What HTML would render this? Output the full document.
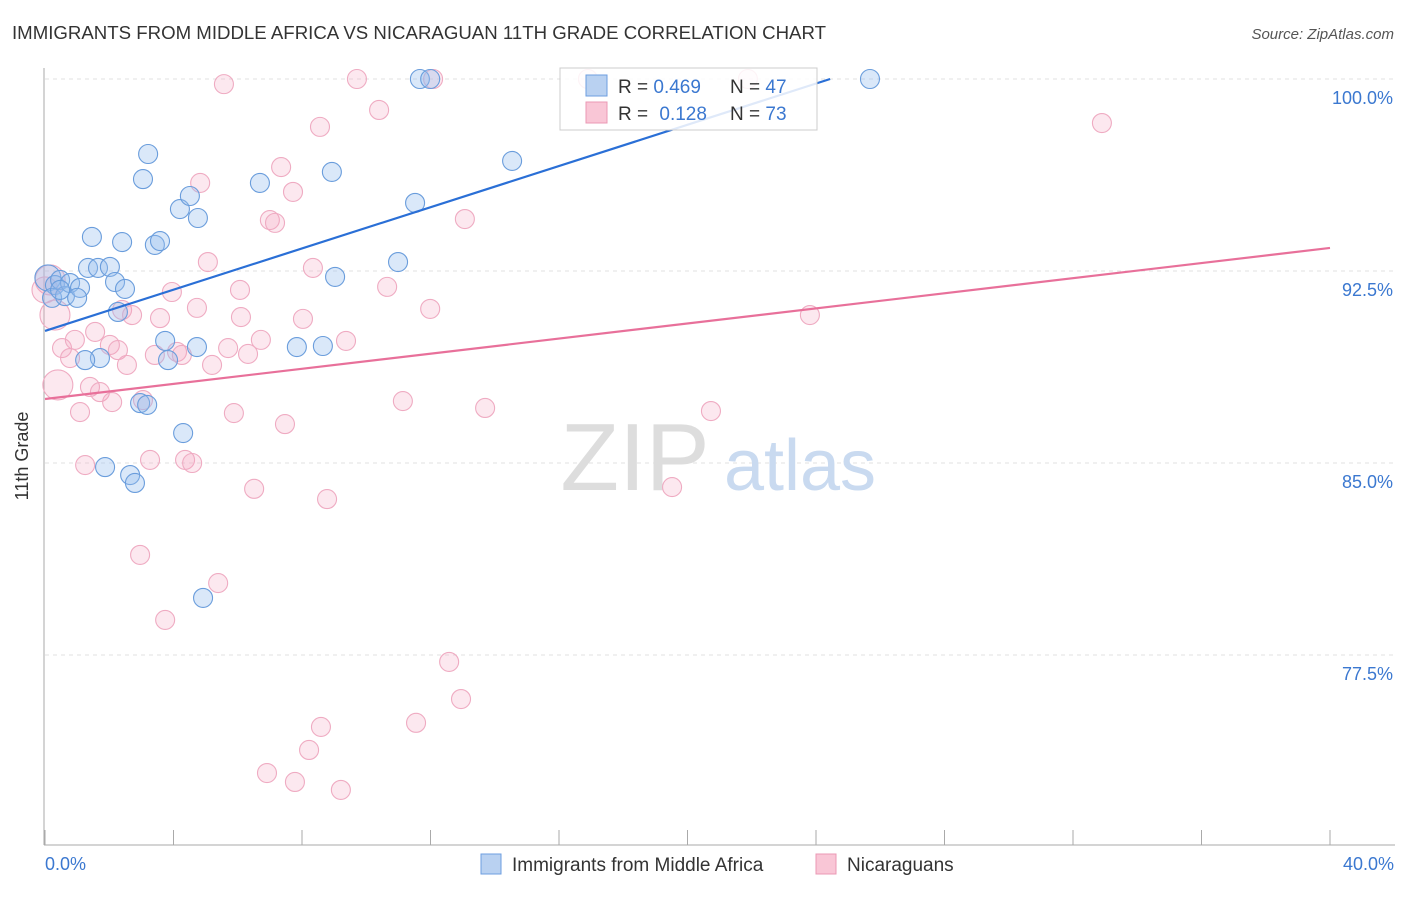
<!DOCTYPE html>
<html><head><meta charset="utf-8">
<style>
body{margin:0;background:#fff;font-family:"Liberation Sans",sans-serif;}
svg text{font-family:"Liberation Sans",sans-serif;}
</style></head>
<body>
<svg id="chart" width="1406" height="892" viewBox="0 0 1406 892" xmlns="http://www.w3.org/2000/svg">
<text x="12" y="39" font-size="18" fill="#333" textLength="814" lengthAdjust="spacingAndGlyphs">IMMIGRANTS FROM MIDDLE AFRICA VS NICARAGUAN 11TH GRADE CORRELATION CHART</text>
<text x="1394" y="39" font-size="15" fill="#555" font-style="italic" text-anchor="end">Source: ZipAtlas.com</text>
<g id="grid"></g>
<g>
<text x="635" y="490" font-size="96" fill="#ddd" font-family="Liberation Serif" text-anchor="middle">ZIP</text>
<text x="800" y="490" font-size="72" fill="#c9daf0" text-anchor="middle">atlas</text>
</g>
<line x1="44" y1="68" x2="44" y2="845" stroke="#aaa"/>
<line x1="44" y1="845" x2="1395" y2="845" stroke="#aaa"/>
<g id="xticks"></g>
<text x="28" y="456" font-size="18" fill="#333" text-anchor="middle" transform="rotate(-90 28 456)">11th Grade</text>
<text x="45" y="870" font-size="18" fill="#3b78d0">0.0%</text>
<text x="1394" y="870" font-size="18" fill="#3b78d0" text-anchor="end">40.0%</text>
<g id="pinkpts"></g>
<g id="bluepts"></g>
<g id="lines"></g>
<g>
<rect x="560" y="68" width="257" height="62" fill="rgba(255,255,255,0.85)" stroke="#ccc"/>
<rect x="586" y="75" width="21" height="21" fill="#b9d1f1" stroke="#6d9ee0"/>
<rect x="586" y="102" width="21" height="21" fill="#f9c6d6" stroke="#eb98b4"/>
<text x="618" y="93" font-size="19" fill="#333">R = <tspan fill="#3b78d0">0.469</tspan></text>
<text x="730" y="93" font-size="19" fill="#333">N = <tspan fill="#3b78d0">47</tspan></text>
<text x="618" y="120" font-size="19" fill="#333">R = <tspan fill="#3b78d0" dx="6">0.128</tspan></text>
<text x="730" y="120" font-size="19" fill="#333">N = <tspan fill="#3b78d0">73</tspan></text>
</g>
<g>
<rect x="481" y="854" width="20" height="20" fill="#b9d1f1" stroke="#6d9ee0"/>
<text x="512" y="871" font-size="19" fill="#333">Immigrants from Middle Africa</text>
<rect x="816" y="854" width="20" height="20" fill="#f9c6d6" stroke="#eb98b4"/>
<text x="847" y="871" font-size="19" fill="#333">Nicaraguans</text>
</g>
</svg>
<script>
const yTicks=[100,92.5,85,77.5];
const yTickLabels=["100.0%","92.5%","85.0%","77.5%"];
const xTicks=[0,4,8,12,16,20,24,28,32,36,40];
const blueX=[0.09,0.31,0.47,0.22,0.62,0.78,1.09,1.0,1.46,1.34,1.65,2.02,2.40,2.18,2.49,2.27,1.71,1.25,3.21,3.05,3.42,3.58,4.20,4.51,4.76,3.74,3.83,4.73,2.96,3.18,4.30,1.87,2.65,2.80,4.92,6.69,7.84,8.65,8.93,9.03,10.99,11.52,11.67,11.99,14.54,25.68,0.47];
const blueY=[92.23,91.95,92.15,91.45,91.52,92.03,91.84,91.45,93.83,92.62,92.62,92.66,93.63,92.07,91.80,90.90,89.10,89.02,97.07,96.09,93.52,93.67,94.92,95.43,94.57,89.77,89.02,89.53,87.34,87.27,86.17,84.84,84.53,84.22,79.73,95.94,89.53,89.57,96.37,92.27,92.85,95.16,100,100,96.8,100,91.76];
const pinkX=[0.16,0.31,0.40,0.0,0.53,0.78,0.93,1.56,1.40,1.71,1.09,1.25,2.02,2.09,2.27,2.40,2.55,2.71,3.27,2.96,3.58,3.42,3.95,3.74,4.11,4.36,4.58,4.26,4.83,5.07,4.73,5.20,5.39,5.57,5.70,5.88,6.07,6.10,6.32,6.51,6.72,6.91,7.00,7.16,7.35,7.47,7.72,7.78,8.03,8.22,8.34,8.56,8.59,8.78,9.21,9.37,9.71,10.40,10.65,11.14,11.55,11.99,12.08,12.58,12.95,13.07,13.70,16.90,19.52,20.73,21.88,23.81,32.90,3.05];
const pinkY=[92.15,90.78,88.05,91.76,89.49,89.10,89.81,90.12,87.97,87.77,86.99,84.92,89.61,87.38,89.41,90.98,88.83,90.78,85.12,81.41,90.66,89.22,91.68,78.87,89.34,85.12,85.0,89.22,95.94,92.85,91.06,88.83,80.31,99.8,89.49,86.95,91.76,90.70,89.26,83.99,89.81,72.89,94.49,94.38,96.56,86.52,95.59,72.54,90.63,73.79,92.62,98.13,74.69,83.59,72.23,89.77,100,98.79,91.88,87.42,74.85,91.02,100,77.23,75.78,94.53,87.15,100,84.06,87.03,100,90.78,98.28,87.46];
const blueTrend=[90.16,100];
const pinkTrend=[87.5,93.4];
const NS="http://www.w3.org/2000/svg";
const sx=v=>45+v/40*1285;
const sy=v=>79+(100-v)/7.5*192;
function mk(tag,attrs,parent){const e=document.createElementNS(NS,tag);for(const k in attrs)e.setAttribute(k,attrs[k]);parent.appendChild(e);return e;}
const grid=document.getElementById('grid');
yTicks.forEach((t,i)=>{
  const l=mk('line',{x1:45,x2:1395,y1:sy(t),y2:sy(t),stroke:'#e2e2e2','stroke-dasharray':'4,4'},grid);
  
  
  const tx=mk('text',{x:1393,y:sy(t)+25,'font-size':18,fill:'#3b78d0','text-anchor':'end'},grid);
  tx.textContent=yTickLabels[i];
  
  
});
const xt=document.getElementById('xticks');
xTicks.forEach(t=>{
  const l=mk('line',{x1:sx(t),x2:sx(t),y1:830,y2:845,stroke:'#aaa'},xt);
  
  
});
const pg=document.getElementById('pinkpts');
pinkX.forEach((x,i)=>{
  const big=i<3?15:(i===3?13:9.5);
  const c=mk('circle',{cx:sx(x),cy:sy(pinkY[i]),r:big,fill:'rgba(243,165,192,0.25)',stroke:'#efabc2','stroke-width':1.1},pg);
  
  
});
const bg=document.getElementById('bluepts');
blueX.forEach((x,i)=>{
  const r=i===0?13:9.5;
  const c=mk('circle',{cx:sx(x),cy:sy(blueY[i]),r:r,fill:'rgba(150,190,238,0.35)',stroke:'#6a9ddc','stroke-width':1.1},bg);
  
  
});
const lg=document.getElementById('lines');
const bl=mk('line',{x1:sx(0),y1:sy(blueTrend[0]),x2:sx(24.44),y2:sy(blueTrend[1]),stroke:'#2a6fd6','stroke-width':2.2},lg);


const pl=mk('line',{x1:sx(0),y1:sy(pinkTrend[0]),x2:sx(40),y2:sy(pinkTrend[1]),stroke:'#e8709a','stroke-width':2.2},lg);


</script>
</body></html>
